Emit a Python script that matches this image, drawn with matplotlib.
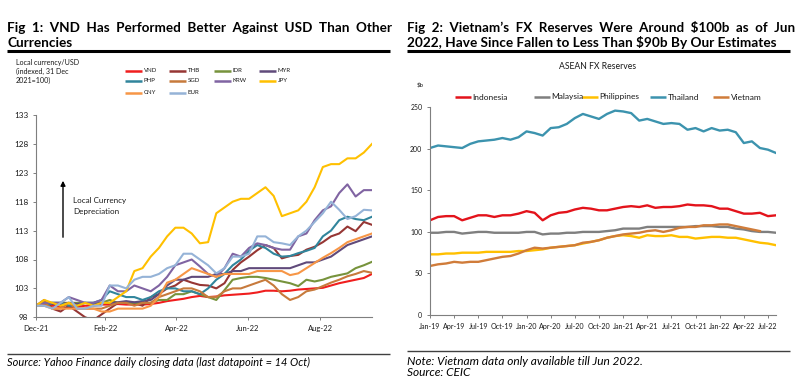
import matplotlib
matplotlib.use('Agg')
import matplotlib.pyplot as plt
from matplotlib.lines import Line2D
from matplotlib.patches import FancyArrowPatch
import numpy as np
import pandas as pd

# ---------------- Data: Fig 1 (weekly readings, index 31 Dec 2021 = 100) ----------------
fx_dates = pd.date_range('2021-12-31', '2022-10-14', freq='7D')
VND = [100, 100.2, 100, 99.8, 99.6, 99.8, 100, 100, 100.2, 100.2, 100.3, 100.2, 100.2, 100.2,
       100.3, 100.5, 100.8, 101, 101.2, 101.5, 101.7, 101.5, 101.6, 101.8, 101.9, 102, 102.1, 102.3,
       102.6, 102.6, 102.5, 102.6, 102.8, 102.9, 103, 103.1, 103.5, 103.9, 104.2, 104.5, 104.8, 105.5]
THB = [100, 101, 99.5, 99, 100, 99, 98, 97.5, 98.5, 99.5,
       100.5, 100.5, 100.5, 100, 101.5, 102, 103, 103.5, 104.5, 104,
       103.6, 103.5, 103, 103.9, 106.2, 107.5, 108.5, 109.6, 110.5, 110,
       108.2, 108.6, 108.8, 109.7, 110.2, 111, 112, 112.5, 113.7, 112.9, 114.5, 114]
IDR = [100, 100.5, 100.5, 100.5, 100.5, 100.5, 100.5, 100.5, 100.5, 101,
       100.5, 100.5, 100.5, 100.5, 100.5, 101, 101, 102, 102, 102.5,
       102, 101.5, 101, 102.7, 104.5, 104.8, 105, 105, 104.8,
       104.5, 104.2, 103.9, 103.4, 104.5, 104.2, 104.5, 105, 105.3, 105.6, 106.5, 107, 107.6]
MYR = [100, 100.5, 100.3, 100.3, 100.5, 100.3, 100.5, 100.3, 100.5, 100.5,
       100.6, 100.8, 100.6, 100.8, 101, 102, 103.5, 104.5, 104.5, 105,
       105, 105, 105.5, 105.5, 106, 106, 106.5, 106.5, 106.5, 106.5,
       106.5, 106.5, 107, 107.5, 107.5, 108, 108.5, 109.5, 110.5, 111, 111.5, 112]
PHP = [100, 100, 100.5, 100.5, 100, 100, 100.5, 100.5, 101, 102.5,
       102, 101.5, 101.5, 101, 101.5, 102.5, 103, 103, 102.5, 102.5,
       102, 103, 104.5, 105.5, 107, 108, 109.5, 110.5, 110, 109,
       108.5, 108.6, 109.1, 109.5, 110, 112, 113, 114.8, 115.4, 115, 114.8, 115.4]
SGD = [100, 100.5, 99.5, 99.5, 100.5, 99.5, 99.5, 99.5, 99.5, 100,
       100.5, 100.5, 100, 100.5, 100.5, 101.5, 102, 102.5, 103, 103,
       102.5, 101.5, 101.5, 102.5, 103, 103, 103.5, 104, 104.5, 103.5,
       102, 101, 101.5, 102.5, 102.8, 103.4, 104, 104.5, 105.1, 105.5, 106, 105.7]
KRW = [100, 100.5, 100.5, 100.5, 101.5, 101, 100.5, 100.5, 101, 103.5,
       102.5, 102.5, 103.5, 103, 102.5, 103.5, 105, 107, 107.5, 108,
       106.8, 105.5, 105, 106.5, 109, 108.5, 110, 110.8, 110.5, 110,
       109.7, 109.7, 112, 112.5, 114.8, 116.5, 117.2, 119.5, 121, 118.9, 120, 120]
JPY = [100, 101, 100.5, 100, 100.5, 100, 100.5, 100, 100.5, 100.5,
       101.5, 102.5, 106, 106.5, 108.5, 110, 112, 113.5, 113.5, 112.5,
       110.8, 111, 116, 117, 118, 118.5, 118.5, 119.5, 120.5, 119,
       115.5, 116, 116.5, 118, 120.5, 124, 124.5, 124.5, 125.5, 125.5, 126.5, 128]
CNY = [100, 100, 99.5, 99.5, 99.5, 99.5, 99.5, 99.5, 99, 99,
       99.5, 99.5, 99.5, 99.5, 100, 101.5, 104, 104.5, 105.5, 106.5,
       106, 105.5, 105, 105.5, 105.5, 105.5, 105.5, 106, 106, 106,
       106, 105.3, 105.6, 106.5, 107.4, 108.3, 109.1, 110, 111, 111.5, 112, 112.5]
EUR = [100, 100, 99.5, 100.5, 101.5, 99.5, 99.5, 100, 100, 103.5,
       103.5, 103, 104.5, 105, 105, 105.5, 106.5, 107, 109, 109,
       108, 107, 105.6, 106.5, 108.5, 108.5, 109, 112, 112, 111,
       110.8, 110.5, 112, 113, 114.5, 116, 118, 116.6, 115, 115.5, 116.6, 116.5]

fx_names = ['VND', 'THB', 'IDR', 'MYR', 'PHP', 'SGD', 'KRW', 'JPY', 'CNY', 'EUR']
fx_series = [VND, THB, IDR, MYR, PHP, SGD, KRW, JPY, CNY, EUR]
fx_colors = ['#F01E1E', '#963634', '#77933C', '#604A7B', '#31859C',
             '#C77A3C', '#8064A2', '#FFC000', '#F79646', '#95B3D7']
fx_tick_dates = pd.to_datetime(['2021-12-31', '2022-02-28', '2022-04-30', '2022-06-30', '2022-08-31'])
fx_tick_labels = ['Dec-21', 'Feb-22', 'Apr-22', 'Jun-22', 'Aug-22']
fx_yticks = [98, 103, 108, 113, 118, 123, 128, 133]

# ---------------- Data: Fig 2 (monthly FX reserves, $b) ----------------
months = pd.date_range('2019-01-01', periods=44, freq='MS').strftime('%b-%y').tolist()
Indonesia = [114, 118, 119, 119, 114, 117, 120, 120, 118, 120, 120, 122,
             125, 123, 114, 120, 123, 124, 127, 129, 128, 126, 126, 128,
             130, 131, 130, 132, 129, 130, 130, 131, 133, 132, 132, 131,
             128, 128, 125, 122, 122, 123, 119, 120]
Malaysia = [99, 99, 100, 100, 98, 99, 100, 100, 99, 99, 99, 99,
            100, 100, 97, 98, 98, 99, 99, 100, 100, 100, 101, 102,
            104, 104, 104, 106, 106, 106, 106, 106, 106, 107, 107, 107,
            106, 106, 104, 103, 101, 100, 100, 99]
Philippines = [73, 73, 74, 74, 75, 75, 75, 76, 76, 76, 76, 77,
               77, 78, 79, 81, 82, 83, 84, 86, 88, 90, 93, 95,
               96, 95, 93, 96, 95, 95, 96, 94, 94, 92, 93, 94,
               94, 93, 93, 91, 89, 87, 86, 84]
Thailand = [201, 204, 203, 202, 201, 206, 209, 210, 211, 213, 211, 214,
            221, 219, 216, 225, 226, 230, 237, 242, 239, 236, 242, 246,
            245, 243, 234, 236, 233, 230, 231, 230, 223, 225, 221, 225,
            222, 223, 220, 207, 209, 201, 199, 195]
Vietnam = [59, 61, 62, 64, 63, 64, 64, 66, 68, 70, 71, 74,
           78, 81, 80, 81, 82, 83, 84, 87, 88, 90, 93, 95,
           97, 98, 99, 101, 102, 100, 102, 105, 106, 106, 108, 108,
           109, 109, 107, 105, 103, 101]
res_names = ['Indonesia', 'Malaysia', 'Philippines', 'Thailand', 'Vietnam']
res_series = [Indonesia, Malaysia, Philippines, Thailand, Vietnam]
res_colors = ['#E3131B', '#7F7F7F', '#FFC000', '#3C93AE', '#D07C3A']
res_yticks = [0, 50, 100, 150, 200, 250]

# ---------------- Figure ----------------
W, H = 800, 389
fig = plt.figure(figsize=(W / 100, H / 100), dpi=100)
fig.patch.set_facecolor('white')
renderer = fig.canvas.get_renderer()

FONT = 'Lato'
TXT = '#1a1a1a'


def rect(x0, y0, x1, y1):
    return [x0 / W, 1 - y1 / H, (x1 - x0) / W, (y1 - y0) / H]


def ftext(x, y, s, size, **kw):
    kw.setdefault('family', FONT)
    return fig.text(x / W, 1 - y / H, s, fontsize=size, **kw)


def width_of(s, size, **kw):
    kw.setdefault('family', FONT)
    t = fig.text(0, 0, s, fontsize=size, **kw)
    w = t.get_window_extent(renderer).width
    t.remove()
    return w


def fit(s, target, **kw):
    return 8.0 * target / width_of(s, 8.0, **kw)


def justify_line(x0, x1, y, s, size, **kw):
    """One text object spanning x0..x1: widen the word gaps with spaces, then fine-tune size."""
    words = s.split(' ')
    ngap = len(words) - 1
    w1 = width_of(s, size, **kw)
    sw = width_of('a a', size, **kw) - width_of('aa', size, **kw)
    k = max(0, int(round(((x1 - x0) - w1) / (ngap * sw))))
    s2 = (' ' * (k + 1)).join(words)
    size2 = size * (x1 - x0) / width_of(s2, size, **kw)
    return ftext(x0, y, s2, size2, va='baseline', **kw)


def hline(x0, x1, y, lw, color='black'):
    fig.add_artist(Line2D([x0 / W, x1 / W], [1 - y / H, 1 - y / H], lw=lw, color=color,
                          transform=fig.transFigure, solid_capstyle='butt'))


def legend_item(x, y, label, color, length, size):
    fig.add_artist(Line2D([x / W, (x + length) / W], [1 - y / H, 1 - y / H], lw=1.8,
                          color=color, transform=fig.transFigure, solid_capstyle='butt'))
    ftext(x + length + 1.5, y, label, size, va='center', ha='left', color=TXT)


# ---- titles ----
title_kw = dict(fontweight='bold', color='black')
t1a = 'Fig 1: VND Has Performed Better Against USD Than Other'
t2a = 'Fig 2: Vietnam\u2019s FX Reserves Were Around $100b as of Jun'
t2b = '2022, Have Since Fallen to Less Than $90b By Our Estimates'
tsize = min(10.2, fit(t2b, 373, **title_kw))
justify_line(7, 390, 31.5, t1a, tsize, **title_kw)
ftext(7, 46.7, 'Currencies', tsize, va='baseline', **title_kw)
justify_line(407, 790, 31.5, t2a, tsize, **title_kw)
ftext(407, 47.2, t2b, tsize, va='baseline', **title_kw)
hline(7, 390, 51, 2.2)
hline(407, 790, 51, 2.2)

# ---- Fig 1 ----
ax1 = fig.add_axes(rect(36, 115, 372, 317.3))
for name, vals, col in zip(fx_names, fx_series, fx_colors):
    ax1.plot(fx_dates, vals, color=col, lw=1.5, solid_joinstyle='round')
ax1.set_xlim(fx_dates[0], fx_dates[-1])
ax1.set_ylim(98, 133)
ax1.set_yticks(fx_yticks)
ax1.set_yticklabels([str(v) for v in fx_yticks])
ax1.set_xticks(fx_tick_dates)
ax1.set_xticklabels(fx_tick_labels)
for sp in ['top', 'right']:
    ax1.spines[sp].set_visible(False)
for sp in ['left', 'bottom']:
    ax1.spines[sp].set_color('#7f7f7f')
    ax1.spines[sp].set_linewidth(0.8)
ax1.tick_params(axis='both', length=2.5, width=0.7, color='#7f7f7f', labelcolor=TXT)
ax1.tick_params(axis='y', pad=3, labelsize=fit('133', 14))
ax1.tick_params(axis='x', pad=3, labelsize=fit('Dec-21', 25))
for lab in ax1.get_xticklabels() + ax1.get_yticklabels():
    lab.set_family(FONT)

s_small = fit('Local currency/USD', 64)
ftext(16, 62, 'Local currency/USD', s_small, va='center', color=TXT)
ftext(16, 71, '(indexed, 31 Dec', s_small, va='center', color=TXT)
ftext(16, 80, '2021=100)', s_small, va='center', color=TXT)

leg_cols = [125, 169, 214, 259]
leg_rows = [71, 81, 92.5]
s_leg = fit('VND', 13.5)
for i, (name, col) in enumerate(zip(fx_names, fx_colors)):
    legend_item(leg_cols[i % 4], leg_rows[i // 4], name, col, 17, s_leg)

fig.add_artist(FancyArrowPatch(
    (63 / W, 1 - 240 / H), (63 / W, 1 - 178 / H), transform=fig.transFigure,
    arrowstyle='-|>', mutation_scale=7, lw=1.0, color='black'))
s_dep = fit('Local Currency', 53)
ftext(73, 200, 'Local Currency', s_dep, va='center', color=TXT)
ftext(73, 211.7, 'Depreciation', s_dep, va='center', color=TXT)

hline(7, 390, 354.3, 1.0, color='#404040')
src1 = 'Source: Yahoo Finance daily closing data (last datapoint = 14 Oct)'
s_src = fit(src1, 301, style='italic')
ftext(7, 366.5, src1, s_src, va='baseline', style='italic', color='black')

# ---- Fig 2 ----
ax2 = fig.add_axes(rect(430, 107.3, 776, 315))
xs = np.arange(len(months))
for name, vals, col in zip(res_names, res_series, res_colors):
    ax2.plot(xs[:len(vals)], vals, color=col, lw=1.7, solid_joinstyle='round')
ax2.set_xlim(0, len(months) - 1)
ax2.set_ylim(0, 250)
ax2.set_yticks(res_yticks)
ax2.set_xticks(xs[::3])
ax2.set_xticklabels(months[::3])
for sp in ['top', 'right']:
    ax2.spines[sp].set_visible(False)
for sp in ['left', 'bottom']:
    ax2.spines[sp].set_color('#7f7f7f')
    ax2.spines[sp].set_linewidth(0.8)
ax2.tick_params(axis='both', length=2.5, width=0.7, color='#7f7f7f', labelcolor=TXT)
ax2.tick_params(axis='y', pad=3, labelsize=fit('250', 12))
ax2.tick_params(axis='x', pad=3, labelsize=fit('Jan-19', 21.7))
for lab in ax2.get_xticklabels() + ax2.get_yticklabels():
    lab.set_family(FONT)

ftext(598, 66.7, 'ASEAN FX Reserves', fit('ASEAN FX Reserves', 77), ha='center', va='center',
      color=TXT)
ftext(417, 85, '$b', s_leg, va='center', color=TXT)
res_leg_x = [455, 534, 582, 650, 713]
s_leg2 = fit('Philippines', 40)
for x, name, col in zip(res_leg_x, res_names, res_colors):
    legend_item(x, 97, name, col, 16, s_leg2)

hline(407, 790, 350.7, 1.0, color='#404040')
note = 'Note: Vietnam data only available till Jun 2022.'
s_note = fit(note, 238, style='italic')
ftext(407, 365, note, s_note, va='baseline', style='italic', color='black')
ftext(407, 376, 'Source: CEIC', s_note, va='baseline', style='italic', color='black')

fig.savefig('out.png', dpi=100, facecolor='white')
